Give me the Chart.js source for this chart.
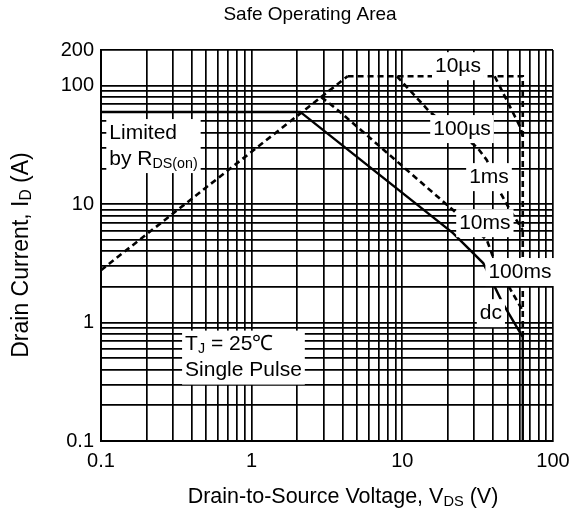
<!DOCTYPE html>
<html>
<head>
<meta charset="utf-8">
<script src="https://cdn.jsdelivr.net/npm/chart.js@4.4.1/dist/chart.umd.min.js"></script>
<style>
  html, body { margin: 0; padding: 0; background: #fff; }
</style>
</head>
<body>
<canvas id="soaChart" width="587" height="515"></canvas>
<script>
// tick labels shown on the axes
const xTickLabels = [0.1, 1, 10, 100];
const yTickLabels = [0.1, 1, 10, 100, 200];

// curves, [V_DS (V), I_D (A)]
const rdsLimit = [[0.1, 2.77], [4.33, 120]];
const line10us = [[4.33, 120], [63, 120], [63, 0.76]];
const line100us = [[41, 120], [61, 44], [63, 37]];
const line1ms = [[9.2, 120], [15.2, 60], [31.3, 30.3], [36.4, 23.5], [44.6, 12.6], [51.9, 8.9], [58.3, 7.05], [63, 6.05]];
const line10ms = [[2.9, 80], [3.86, 60], [21.7, 8.9], [36.4, 4.97], [40, 3.57], [52.5, 1.88], [61, 1.35], [63, 1.25]];
const lineDc = [[0.1, 60], [2.1, 60], [21.7, 5.69], [34.4, 3.18], [46.3, 1.46], [63, 0.753], [63, 0.1]];

const FONT = 'Arial, "Liberation Sans", sans-serif';

function toPoints(arr) {
  return arr.map(p => ({ x: p[0], y: p[1] }));
}

function curve(arr, dashed) {
  return {
    data: toPoints(arr),
    showLine: true,
    borderColor: '#000',
    borderWidth: dashed ? 2.6 : 2.4,
    borderDash: dashed ? [6, 4] : [],
    pointRadius: 0,
    tension: 0,
  };
}

// 1..9 grid in every decade
function logGrid(min, max) {
  const out = [];
  for (let e = -1; e <= 2; e++) {
    for (let m = 1; m <= 9; m++) {
      const v = parseFloat((m * Math.pow(10, e)).toPrecision(6));
      if (v >= min && v <= max) out.push(v);
    }
  }
  return out;
}

// annotation boxes (white background), centre given in data units
const notes = [
  { at: [0.223, 30.9], align: 'left', rows: [[['Limited', 0]], [['by R', 0], ['DS(on)', 1]]] },
  { at: [0.882, 0.506], align: 'left', rows: [[['T', 0], ['J', 1], [' = 25\u2103', 0]], [['Single Pulse', 0]]] },
  { at: [23.4, 146], rows: [[['10\u00b5s', 0]]] },
  { at: [24.9, 43], rows: [[['100\u00b5s', 0]]] },
  { at: [37.6, 16.9], rows: [[['1ms', 0]]] },
  { at: [35.3, 6.9], rows: [[['10ms', 0]]] },
  { at: [60.3, 2.67], rows: [[['100ms', 0]]] },
  { at: [38.7, 1.2], rows: [[['dc', 0]]] },
];

function partsWidth(ctx, parts, size) {
  let w = 0;
  parts.forEach(([t, sub]) => {
    ctx.font = (sub ? size * 0.68 : size) + 'px ' + FONT;
    w += ctx.measureText(t).width;
  });
  return w;
}

function drawParts(ctx, parts, x, y, size) {
  ctx.textBaseline = 'middle';
  ctx.textAlign = 'left';
  parts.forEach(([t, sub]) => {
    ctx.font = (sub ? size * 0.68 : size) + 'px ' + FONT;
    ctx.fillText(t, x, sub ? y + size * 0.22 : y);
    x += ctx.measureText(t).width;
  });
}

const textPlugin = {
  id: 'soaText',
  afterDatasetsDraw(chart) {
    const ctx = chart.ctx;
    const xs = chart.scales.x, ys = chart.scales.y;
    ctx.save();
    ctx.fillStyle = '#000';
    const size = 21, rowH = 26;
    notes.forEach(n => {
      const cx = xs.getPixelForValue(n.at[0]);
      const cy = ys.getPixelForValue(n.at[1]);
      const widths = n.rows.map(r => partsWidth(ctx, r, size));
      const w = Math.max(...widths) + 6;
      const h = n.rows.length * rowH + 2;
      ctx.fillStyle = '#fff';
      ctx.fillRect(cx - w / 2, cy - h / 2, w, h);
      ctx.fillStyle = '#000';
      n.rows.forEach((r, i) => {
        const y = cy - h / 2 + 1 + rowH * (i + 0.5);
        const x = n.align === 'left' ? cx - w / 2 + 3 : cx - widths[i] / 2;
        drawParts(ctx, r, x, y, size);
      });
    });

    // chart title
    ctx.font = '19px ' + FONT;
    ctx.textAlign = 'center';
    ctx.textBaseline = 'middle';
    ctx.fillText('Safe Operating Area', 310, 15);

    // x axis title
    const xt = [['Drain-to-Source Voltage, V', 0], ['DS', 1], [' (V)', 0]];
    const xw = partsWidth(ctx, xt, 21.5);
    drawParts(ctx, xt, 343 - xw / 2, 497, 21.5);

    // y axis title
    const yt = [['Drain Current, I', 0], ['D', 1], [' (A)', 0]];
    const yw = partsWidth(ctx, yt, 23);
    ctx.translate(22, 255);
    ctx.rotate(-Math.PI / 2);
    drawParts(ctx, yt, -yw / 2, 0, 23);
    ctx.restore();
  }
};

const ctx = document.getElementById('soaChart').getContext('2d');
new Chart(ctx, {
  type: 'scatter',
  data: {
    datasets: [
      curve(rdsLimit, true),
      curve(line10us, true),
      curve(line100us, true),
      curve(line1ms, true),
      curve(line10ms, true),
      curve(lineDc, false),
    ],
  },
  options: {
    responsive: false,
    animation: false,
    layout: { padding: { top: 50, right: 34, bottom: 0, left: 0 } },
    plugins: { legend: { display: false }, tooltip: { enabled: false }, title: { display: false } },
    scales: {
      x: {
        type: 'logarithmic',
        min: 0.1,
        max: 100,
        afterBuildTicks: s => { s.ticks = logGrid(0.1, 100).map(v => ({ value: v })); },
        afterFit: s => { s.height = 74; },
        grid: { color: '#000', lineWidth: 1.7, drawTicks: false },
        border: { color: '#000', width: 2 },
        ticks: {
          autoSkip: false, maxRotation: 0, padding: 8, color: '#000',
          font: { family: FONT, size: 20 },
          callback: v => xTickLabels.includes(v) ? String(v) : '',
        },
      },
      y: {
        type: 'logarithmic',
        min: 0.1,
        max: 200,
        afterBuildTicks: s => { s.ticks = logGrid(0.1, 200).map(v => ({ value: v })); },
        afterFit: s => { s.width = 101; },
        grid: { color: '#000', lineWidth: 1.7, drawTicks: false },
        border: { color: '#000', width: 2 },
        ticks: {
          autoSkip: false, padding: 7, color: '#000',
          font: { family: FONT, size: 20 },
          callback: v => yTickLabels.includes(v) ? String(v) : '',
        },
      },
    },
  },
  plugins: [textPlugin],
});
</script>
</body>
</html>
